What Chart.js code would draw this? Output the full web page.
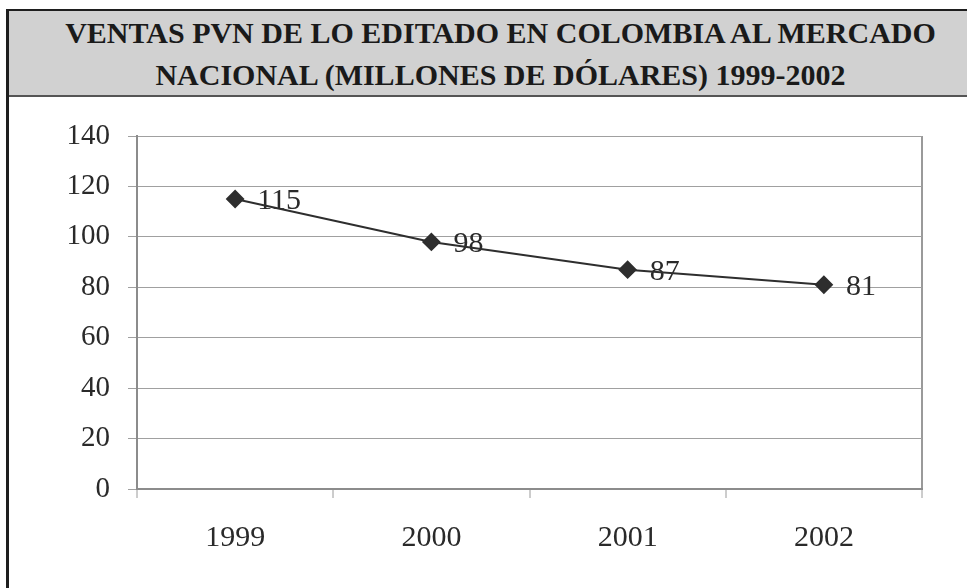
<!DOCTYPE html>
<html>
<head>
<meta charset="utf-8">
<script src="https://cdn.jsdelivr.net/npm/chart.js@4.4.1/dist/chart.umd.min.js"></script>
<style>
  html, body { margin: 0; padding: 0; background: #fff; width: 967px; height: 588px; overflow: hidden; }
  #wrap { position: relative; width: 967px; height: 588px; overflow: hidden; }
  #frameLeft { position: absolute; left: 6px; top: 9px; width: 3px; height: 579px; background: #1e1e1e; }
  #header { position: absolute; left: 6px; top: 9px; width: 961px; background: #d1d1d1;
            border-top: 2px solid #1e1e1e; border-bottom: 2px solid #555; box-sizing: border-box; height: 88px; }
  .tline { position: absolute; left: 20px; width: 961px; text-align: center; font-family: "Liberation Serif", serif;
           font-weight: bold; font-size: 30px; line-height: 30px; color: #1a1a1a; white-space: nowrap; }
  canvas { position: absolute; left: 0; top: 0; }
</style>
</head>
<body>
<div id="wrap">
  <canvas id="c" width="967" height="588"></canvas>
  <div id="header"></div>
  <div id="frameLeft"></div>
  <div class="tline" style="top:18px">VENTAS PVN DE LO EDITADO EN COLOMBIA AL MERCADO</div>
  <div class="tline" style="top:60px">NACIONAL (MILLONES DE DÓLARES) 1999-2002</div>
</div>
<script>
const years = ['1999', '2000', '2001', '2002'];
const ventas = [115, 98, 87, 81];
const yMin = 0;
const yMax = 140;
const yStep = 20;

const labelPlugin = {
  id: 'valueLabels',
  beforeDatasetsDraw(chart) {
    const ctx = chart.ctx;
    const meta = chart.getDatasetMeta(0);
    ctx.save();
    ctx.font = '30px "Liberation Serif", serif';
    ctx.fillStyle = '#2a2a2a';
    ctx.textAlign = 'left';
    ctx.textBaseline = 'middle';
    meta.data.forEach((pt, i) => {
      ctx.fillText(String(ventas[i]), pt.x + 22, pt.y + 2);
    });
    ctx.restore();
  }
};

new Chart(document.getElementById('c'), {
  type: 'line',
  data: {
    labels: years,
    datasets: [{
      data: ventas,
      borderColor: '#2e2e2e',
      borderWidth: 2,
      pointStyle: 'rectRot',
      pointRadius: 8,
      pointHoverRadius: 8,
      pointBackgroundColor: '#2e2e2e',
      pointBorderColor: '#2e2e2e',
      tension: 0,
      fill: false
    }]
  },
  options: {
    responsive: false,
    animation: false,
    events: [],
    layout: { padding: { top: 136, left: 10, right: 45, bottom: 0 } },
    plugins: { legend: { display: false }, title: { display: false }, tooltip: { enabled: false } },
    scales: {
      x: {
        offset: true,
        grid: {
          offset: true,
          drawOnChartArea: true,
          color: (c) => (c.type !== 'tick' ? '#9a9a9a' : 'rgba(0,0,0,0)'),
          lineWidth: 2,
          tickColor: '#9a9a9a',
          tickLength: 9,
          tickWidth: 1
        },
        border: { color: '#8c8c8c', width: 2 },
        ticks: {
          color: '#2a2a2a',
          font: { family: '"Liberation Serif", serif', size: 30 },
          padding: 22,
          maxRotation: 0
        },
        afterFit(scale) { scale.height = 99; }
      },
      y: {
        min: yMin,
        max: yMax,
        ticks: {
          stepSize: yStep,
          color: '#2a2a2a',
          font: { family: '"Liberation Serif", serif', size: 29 },
          padding: 18
        },
        grid: { color: '#a0a0a0', lineWidth: 1, tickLength: 9, tickColor: '#a0a0a0' },
        border: { color: '#8c8c8c', width: 2 },
        afterFit(scale) { scale.width = 127; }
      }
    }
  },
  plugins: [labelPlugin]
});
</script>
</body>
</html>
